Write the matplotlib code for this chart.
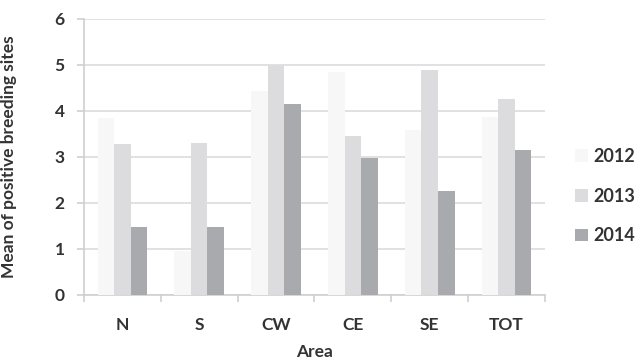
import numpy as np
import matplotlib.pyplot as plt
from matplotlib.ticker import FixedLocator

plt.rcParams['font.family'] = ['Lato', 'DejaVu Sans']

areas = ['N', 'S', 'CW', 'CE', 'SE', 'TOT']
years = ['2012', '2013', '2014']
mean_2012 = [3.84, 0.96, 4.43, 4.85, 3.59, 3.86]
mean_2013 = [3.28, 3.31, 4.99, 3.46, 4.89, 4.27]
mean_2014 = [1.47, 1.47, 4.16, 2.98, 2.25, 3.15]

colors = ['#f7f7f8', '#dcdcdf', '#a9aaae']
text_col = '#333333'

fig = plt.figure(figsize=(6.43, 3.6), dpi=100)
ax = fig.add_axes([0.1306, 0.1806, 0.7170, 0.7667])

x = np.arange(len(areas))
w = 0.215
for i, (vals, c, yr) in enumerate(zip([mean_2012, mean_2013, mean_2014], colors, years)):
    ax.bar(x + (i - 1) * w, vals, width=w, color=c, label=yr, zorder=3)

ax.set_xlim(-0.5, len(areas) - 0.5)
ax.set_ylim(0, 6)
ax.set_yticks(range(7))
ax.yaxis.grid(True, color='#dcdcdc', linewidth=1.2, zorder=0)

for s in ['top', 'right']:
    ax.spines[s].set_visible(False)
for s in ['left', 'bottom']:
    ax.spines[s].set_color('#cfcfcf')
    ax.spines[s].set_linewidth(1.2)

ax.set_xticks(x)
ax.set_xticklabels(areas, fontsize=12.5, fontweight='bold', color=text_col)
ax.tick_params(axis='x', which='major', length=0, pad=16)
ax.xaxis.set_minor_locator(FixedLocator(np.arange(-0.5, len(areas), 1.0)))
ax.tick_params(axis='x', which='minor', length=5, color='#cfcfcf', width=1.2)
ax.tick_params(axis='y', length=5, color='#cfcfcf', width=1.2, pad=9,
               labelsize=12.5, labelcolor=text_col)
for t in ax.get_yticklabels():
    t.set_fontweight('bold')

ax.set_xlabel('Area', fontsize=12.5, fontweight='bold', color=text_col, labelpad=8)
ax.set_ylabel('Mean of positive breeding sites', fontsize=12.5, fontweight='bold',
              color=text_col, labelpad=22)
ax.yaxis.set_label_coords(-0.145, 0.5)

leg = fig.legend(loc='center left', bbox_to_anchor=(0.895, 0.455), frameon=False,
                 fontsize=13, handlelength=0.7, handleheight=0.7, handletextpad=0.3,
                 labelspacing=1.25, borderpad=0, borderaxespad=0)
for t in leg.get_texts():
    t.set_color(text_col)
    t.set_fontweight('bold')

fig.savefig('out.png', dpi=100)
